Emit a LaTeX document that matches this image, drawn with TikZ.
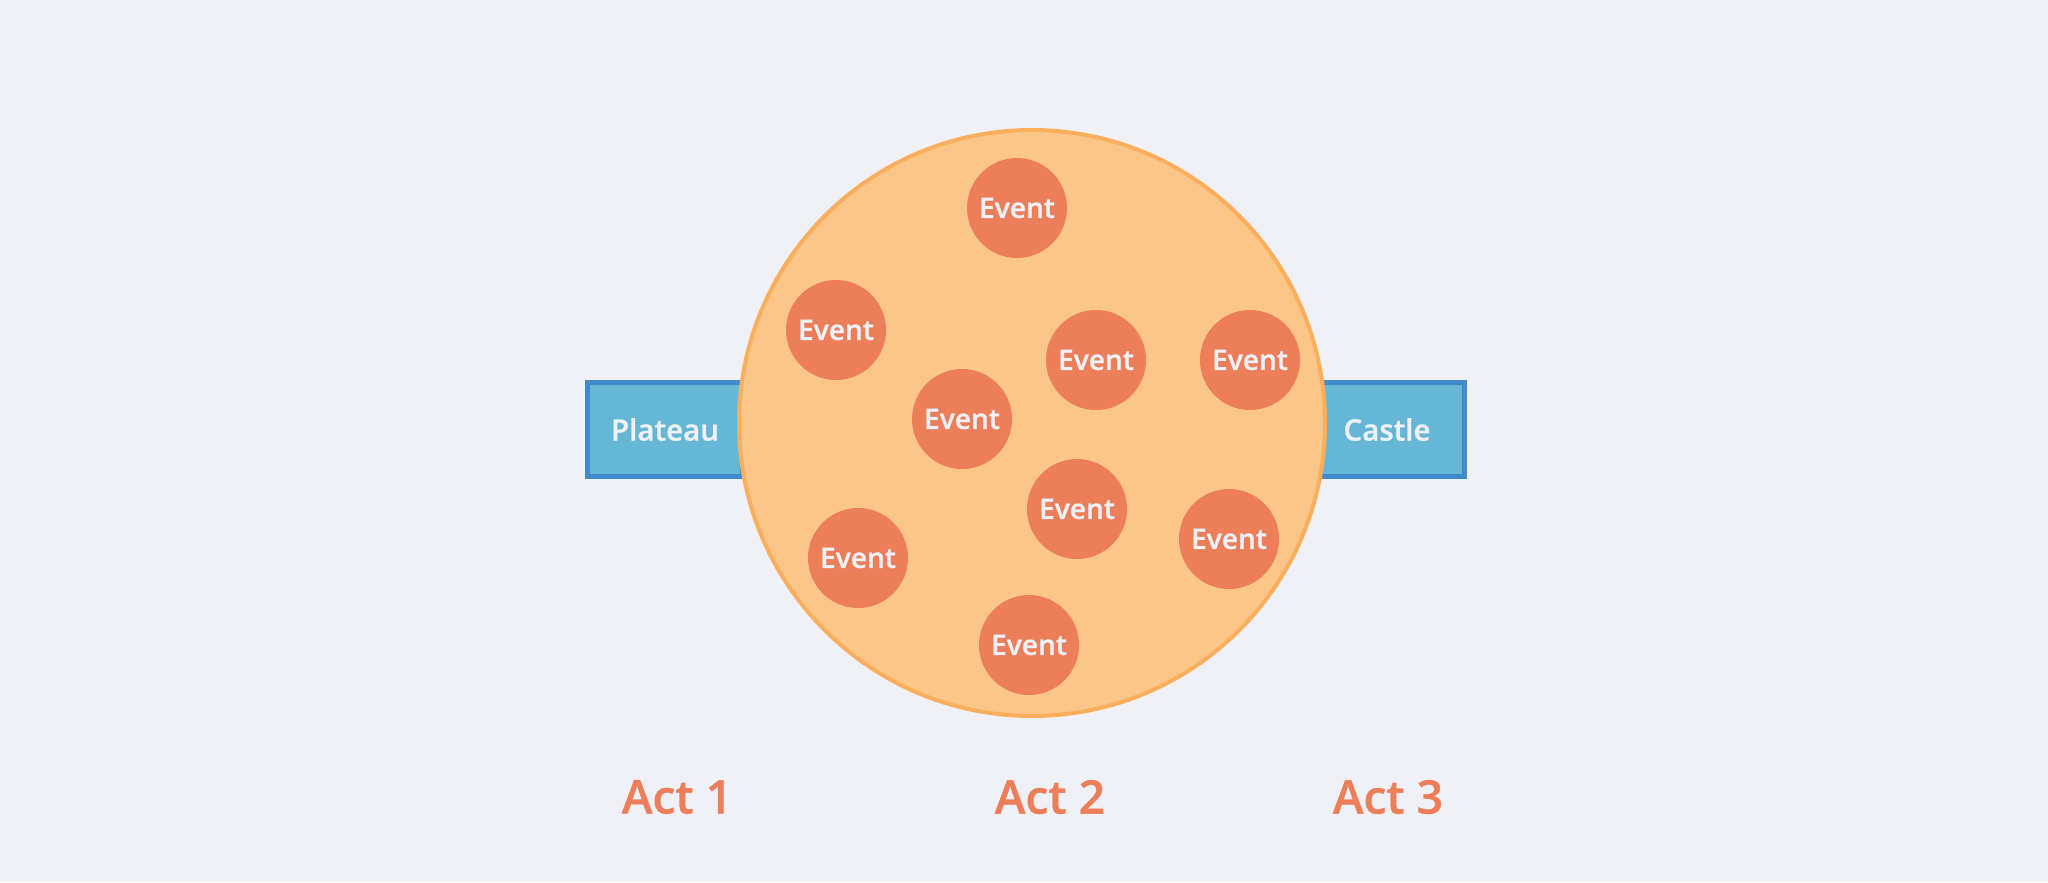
\documentclass[tikz,border=0pt]{standalone}
\usepackage{fontspec}
\setmainfont{Open Sans}[BoldFont={Open Sans Semibold}, BoldFeatures={FakeBold=0.8}]
\usepackage{tikz}
\usetikzlibrary{positioning}

\definecolor{bgcol}{HTML}{F0F1F6}
\definecolor{actfill}{HTML}{FCC688}
\definecolor{actdraw}{HTML}{FBAF5D}
\definecolor{eventfill}{HTML}{EC7E5A}
\definecolor{boxfill}{HTML}{66B7D6}
\definecolor{boxdraw}{HTML}{428BCA}
\definecolor{labelcol}{HTML}{EE7E5A}

\begin{document}
\begin{tikzpicture}[
  x=0.1mm, y=-0.1mm,
  endbox/.style={rectangle, draw=boxdraw, fill=boxfill, line width=0.5mm,
                 minimum width=15.5mm, minimum height=9.4mm, inner sep=0pt,
                 text=bgcol, font=\fontsize{8.4}{10}\selectfont\bfseries},
  middle/.style={circle, draw=actdraw, fill=actfill, line width=0.4mm,
                 minimum size=58.6mm, inner sep=0pt},
  event/.style={circle, fill=eventfill, minimum size=10mm, inner sep=0pt,
                text=bgcol, font=\fontsize{8}{10}\selectfont\bfseries},
  actlabel/.style={text=labelcol, font=\fontsize{13.2}{16}\selectfont\bfseries}
]
% background
\fill[bgcol] (0,0) rectangle (2048,882);
\useasboundingbox (0,0) rectangle (2048,882);

% end boxes (under the circle)
\node[endbox] (plateau) at (665,429.5) {Plateau};
\node[endbox] (castle)  at (1387,429.5) {Castle};

% act 2 circle
\node[middle] (act) at (1032,423) {};

% events
\node[event] (ev1) at (1017,208) {Event};
\node[event] (ev2) at (836,330)  {Event};
\node[event] (ev3) at (1096,360) {Event};
\node[event] (ev4) at (1250,360) {Event};
\node[event] (ev5) at (962,419)  {Event};
\node[event] (ev6) at (1077,509) {Event};
\node[event] (ev7) at (1229,539) {Event};
\node[event] (ev8) at (858,558)  {Event};
\node[event] (ev9) at (1029,645) {Event};

% acts
\node[actlabel] (act1) at (677,797)  {Act 1};
\node[actlabel] (act2) at (1050,797) {Act 2};
\node[actlabel] (act3) at (1388,797) {Act 3};
\end{tikzpicture}
\end{document}
